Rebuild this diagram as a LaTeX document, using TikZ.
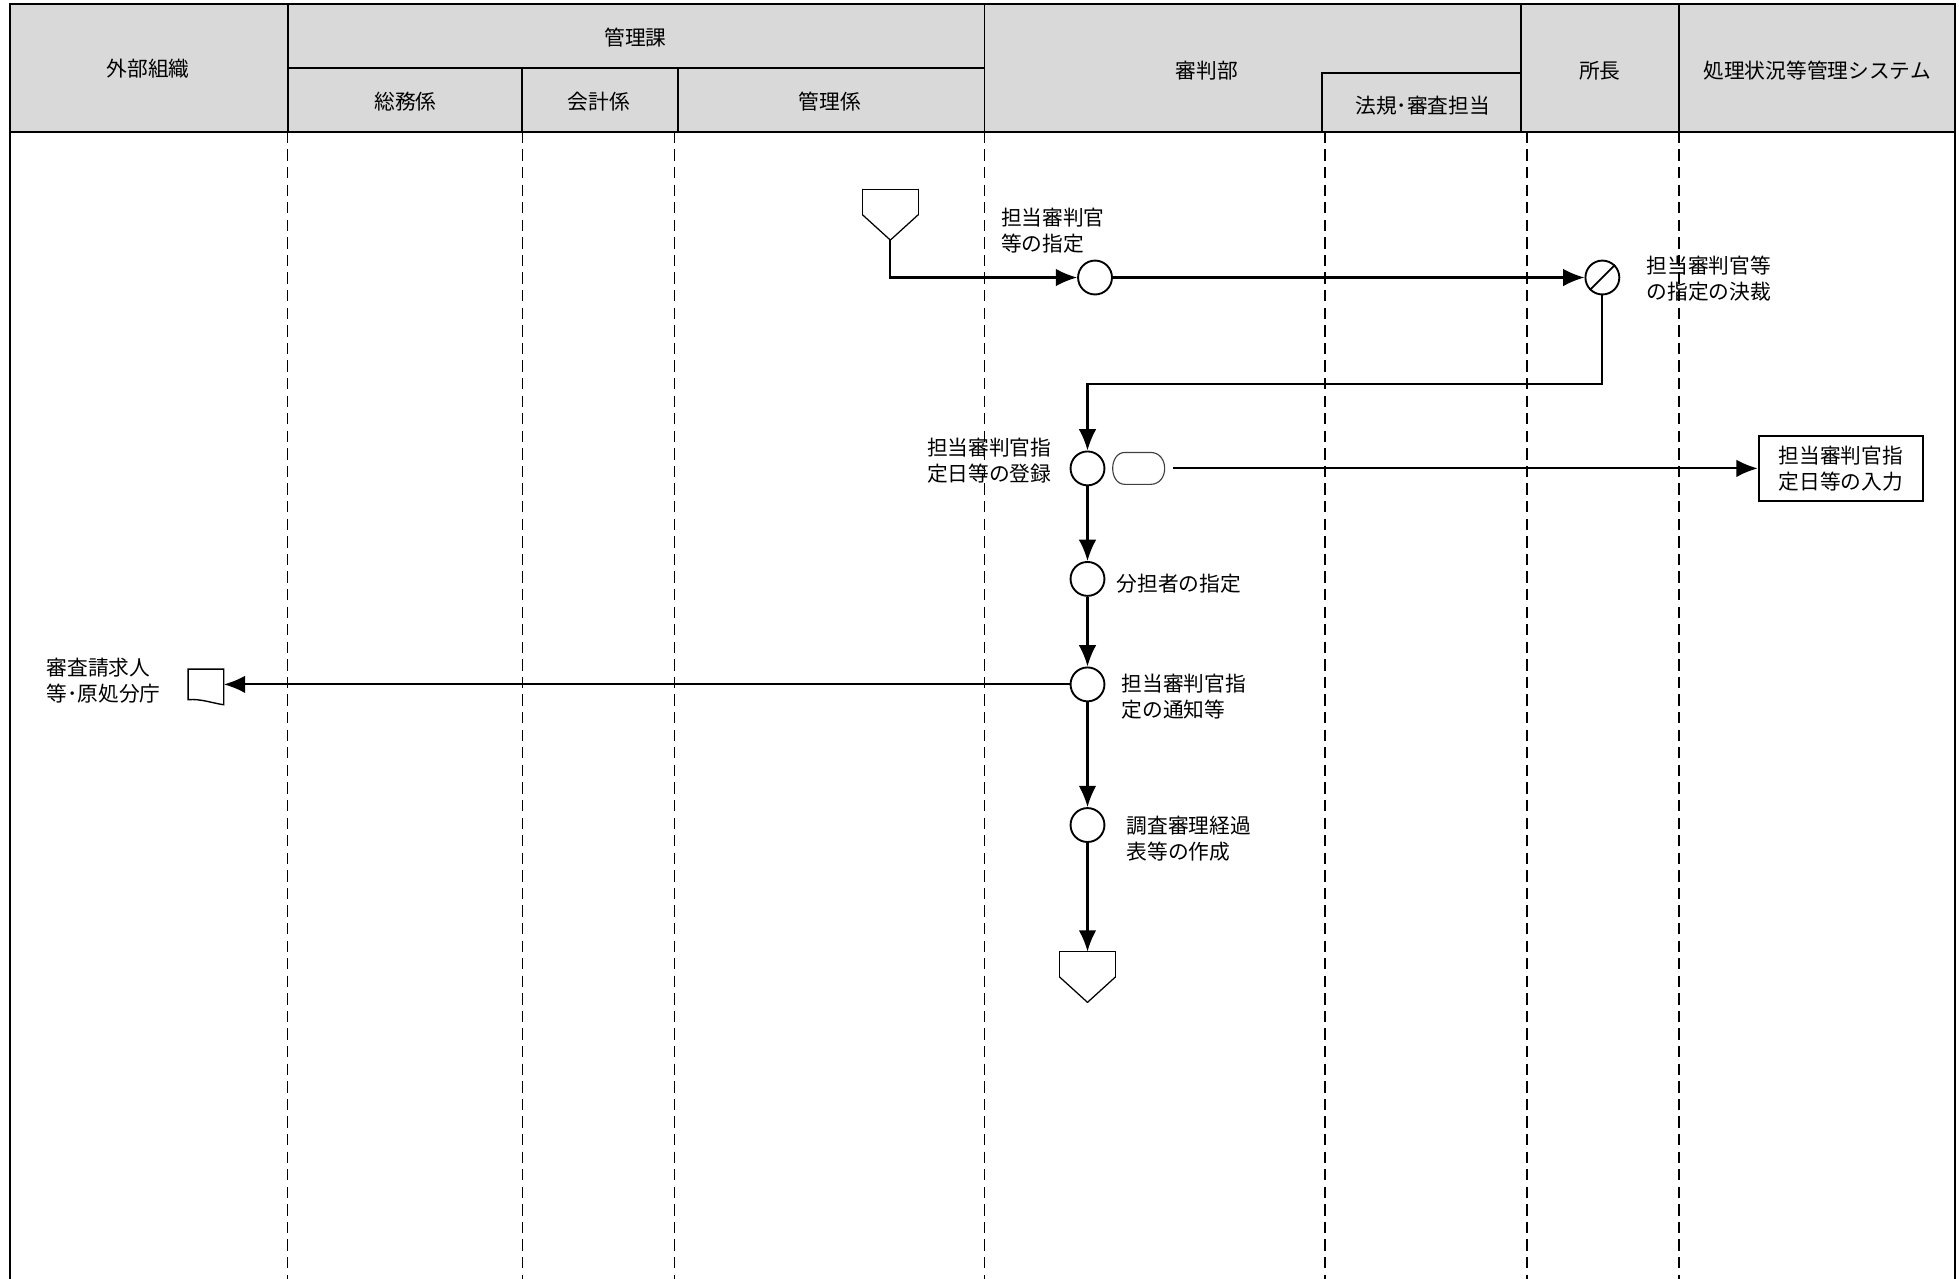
\documentclass[tikz,border=0pt]{standalone}
\usepackage{fontspec}
\setmainfont{Noto Sans CJK JP}
\usetikzlibrary{arrows.meta}

\tikzset{decide/.style={draw,circle,append after command={
		(\tikzlastnode.south west) edge[line width=1.5pt] (\tikzlastnode.north east)
		}
	}
}
\tikzset{offpage/.style={minimum width=44pt,minimum height=40pt,inner sep=0pt,append after command={
		(\tikzlastnode.north west) edge[thinline] (\tikzlastnode.west)
		(\tikzlastnode.west) edge[thinline] (\tikzlastnode.south)
		(\tikzlastnode.south) edge[thinline] (\tikzlastnode.east)
		(\tikzlastnode.east) edge[thinline] (\tikzlastnode.north east)
		(\tikzlastnode.north east) edge[thinline] (\tikzlastnode.north west)
		}
	}
}
\tikzstyle{thinline}=[line width=1pt,line cap=round]
\tikzstyle{act}=[draw,circle,minimum size=27pt,inner sep=0pt,line width=1.5pt]
\tikzstyle{outbox}=[draw,rectangle,minimum width=131pt,minimum height=52pt,inner sep=0pt,line width=1.6pt,align=center]
\tikzstyle{note}=[anchor=west,align=left,inner sep=0pt]
\tikzstyle{lane}=[dash pattern=on 9pt off 5pt,line width=1.3pt]
\tikzstyle{flow}=[->,line width=1.7pt]

\begin{document}
\begin{tikzpicture}[x=1pt,y=-1pt,font=\fontsize{16.5pt}{21pt}\selectfont]
			\useasboundingbox (0,0) rectangle (1560,1018.5);
			% header
			\fill[black!15] (8,3) rectangle (1557,105);
			\draw[line width=1.8pt] (8,1018.5) -- (8,3) -- (1557,3) -- (1557,1018.5);
			\draw[line width=1.8pt] (8,105) -- (1557,105);
			\foreach \x in {229,784,1211,1337}
				\draw[line width=1.5pt] (\x,3) -- (\x,105);
			\draw[line width=1.5pt] (229,54) -- (784,54);
			\draw[line width=1.5pt] (416,54) -- (416,105) (540,54) -- (540,105);
			\draw[line width=1.5pt] (1053,105) -- (1053,58) -- (1211,58);
			\node (H1) at (118,55) {外部組織};
			\node (H2) at (506,30) {管理課};
			\node (H3) at (323,81) {総務係};
			\node (H4) at (477,81) {会計係};
			\node (H5) at (661,81) {管理係};
			\node (H6) at (961,56) {審判部};
			\node (H7) at (1133,84) {法規･審査担当};
			\node (H8) at (1274,56) {所長};
			\node (H9) at (1447,56) {処理状況等管理システム};
			% lanes
			\foreach \x in {229,416,537,784,1055,1216,1337}
				\draw[lane] (\x,105) -- (\x,1018.5);
			\begin{scope}[>={Latex[length=17pt,width=14pt]}] %filled arrow tips
				\node (S1)[offpage] at (709,171) {};
				\node (P1)[act] at (872,221) {};
				\node (P2)[act,decide] at (1276,221) {};
				\node (P3)[act] at (866,373) {};
				\node (P4)[act] at (866,461) {};
				\node (P5)[act] at (866,545) {};
				\node (P6)[act] at (866,657) {};
				\node (S2)[offpage] at (866,778) {};
				\node (R1)[minimum width=42pt,minimum height=25pt] at (907,373) {};
				\node (D1)[minimum width=28pt,minimum height=24pt] at (164,545) {};
				\node (B1)[outbox] at (1466,373) {担当審判官指\\定日等の入力};
				\coordinate (T1) at (1276,306);
				\draw[line width=0.9pt,black!75] ([xshift=10pt]R1.north west) -- ([xshift=-12pt]R1.north east)
					.. controls ([xshift=3pt]R1.north east) and ([xshift=3pt]R1.south east) .. ([xshift=-12pt]R1.south east)
					-- ([xshift=10pt]R1.south west)
					.. controls ([xshift=-3pt]R1.south west) and ([xshift=-3pt]R1.north west) .. cycle;
				\draw[line width=1.1pt] (D1.south west) -- (D1.north west) -- (D1.north east) -- ([yshift=-4pt]D1.south east)
					.. controls ([xshift=-8pt,yshift=-3pt]D1.south east) and ([xshift=10pt,yshift=1pt]D1.south west) .. (D1.south west) -- cycle;
				\node (L1)[note] at (797,183.5) {担当審判官\\等の指定};
				\node (L2)[note] at (1311,222) {担当審判官等\\の指定の決裁};
				\node (L3)[note] at (738,367) {担当審判官指\\定日等の登録};
				\node (L4)[note] at (889,465) {分担者の指定};
				\node (L5)[note] at (893,555) {担当審判官指\\定の通知等};
				\node (L6)[note] at (897,668) {調査審理経過\\表等の作成};
				\node (L7)[note] at (37,542) {審査請求人\\等･原処分庁};
				\draw[flow] (S1.south) |- (P1);
				\draw[flow] (P1) -- (P2);
				\draw[flow] (P2) -- (T1) -| (P3);
				\draw[flow,shorten <=6pt] (R1.east) -- (B1);
				\draw[flow] (P3) -- (P4);
				\draw[flow] (P4) -- (P5);
				\draw[flow] (P5) -- (D1);
				\draw[flow] (P5) -- (P6);
				\draw[flow] (P6) -- (S2.north);
			\end{scope}
		\end{tikzpicture}
\end{document}
